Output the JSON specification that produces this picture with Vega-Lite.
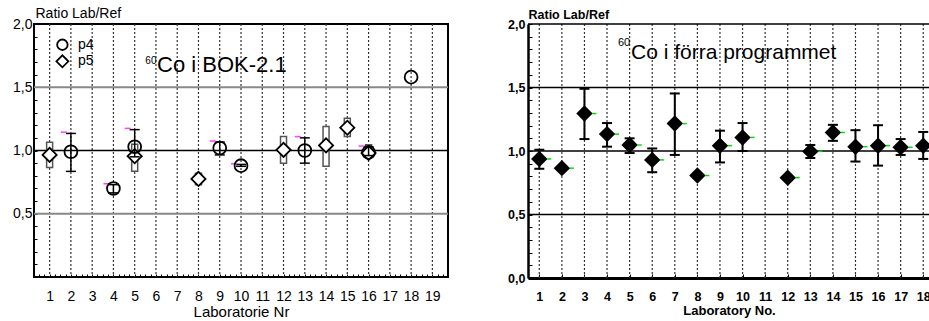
{
  "$schema": "https://vega.github.io/schema/vega-lite/v6.json",
  "padding": {"left": 11, "top": 5, "right": 0, "bottom": 0},
  "config": {"font": "Liberation Sans", "view": {"stroke": null}, "axis": {"grid": false, "labelOverlap": false, "labelFlush": false, "labelSeparation": 0}},
  "bounds": "flush",
  "spacing": 80,
  "datasets": {
    "labsL": [{"lab":1},{"lab":2},{"lab":3},{"lab":4},{"lab":5},{"lab":6},{"lab":7},{"lab":8},{"lab":9},{"lab":10},{"lab":11},{"lab":12},{"lab":13},{"lab":14},{"lab":15},{"lab":16},{"lab":17},{"lab":18},{"lab":19}],
    "labsR": [{"lab":1},{"lab":2},{"lab":3},{"lab":4},{"lab":5},{"lab":6},{"lab":7},{"lab":8},{"lab":9},{"lab":10},{"lab":11},{"lab":12},{"lab":13},{"lab":14},{"lab":15},{"lab":16},{"lab":17},{"lab":18}],
    "box5": [{"lab":1,"lo":0.865,"hi":1.065},{"lab":5,"lo":0.835,"hi":1.05},{"lab":8,"lo":0.73,"hi":0.82},{"lab":12,"lo":0.9,"hi":1.11},{"lab":14,"lo":0.875,"hi":1.19},{"lab":15,"lo":1.11,"hi":1.255},{"lab":16,"lo":0.955,"hi":1.045}],
    "p5": [{"lab":1,"v":0.965},{"lab":5,"v":0.955},{"lab":8,"v":0.775},{"lab":12,"v":1.005},{"lab":14,"v":1.04},{"lab":15,"v":1.18},{"lab":16,"v":0.98}],
    "err4": [{"lab":2,"lo":0.835,"hi":1.135},{"lab":4,"lo":0.665,"hi":0.73},{"lab":5,"lo":0.95,"hi":1.165},{"lab":9,"lo":0.965,"hi":1.067},{"lab":10,"lo":0.875,"hi":0.89},{"lab":13,"lo":0.9,"hi":1.1},{"lab":16,"lo":0.96,"hi":1.03}],
    "mag": [{"lab":2,"v":1.145},{"lab":4,"v":0.737},{"lab":5,"v":1.175},{"lab":9,"v":1.075},{"lab":10,"v":0.895},{"lab":13,"v":1.11},{"lab":16,"v":1.035}],
    "p4": [{"lab":2,"v":0.99},{"lab":4,"v":0.7},{"lab":5,"v":1.03},{"lab":9,"v":1.02},{"lab":10,"v":0.88},{"lab":13,"v":1.0},{"lab":16,"v":0.985},{"lab":18,"v":1.58}],
    "right": [
      {"lab":1,"v":0.9375,"lo":0.86,"hi":1.01},
      {"lab":2,"v":0.865},
      {"lab":3,"v":1.295,"lo":1.094,"hi":1.49},
      {"lab":4,"v":1.133,"lo":1.034,"hi":1.22},
      {"lab":5,"v":1.047,"lo":0.984,"hi":1.1},
      {"lab":6,"v":0.93,"lo":0.833,"hi":1.02},
      {"lab":7,"v":1.216,"lo":0.969,"hi":1.453},
      {"lab":8,"v":0.807},
      {"lab":9,"v":1.042,"lo":0.91,"hi":1.16},
      {"lab":10,"v":1.107,"lo":1.0,"hi":1.22},
      {"lab":12,"v":0.79},
      {"lab":13,"v":0.997,"lo":0.945,"hi":1.047},
      {"lab":14,"v":1.146,"lo":1.08,"hi":1.206},
      {"lab":15,"v":1.034,"lo":0.917,"hi":1.164},
      {"lab":16,"v":1.042,"lo":0.885,"hi":1.203},
      {"lab":17,"v":1.029,"lo":0.969,"hi":1.094},
      {"lab":18,"v":1.042,"lo":0.9375,"hi":1.15}
    ]
  },
  "hconcat": [
    {
      "width": 414,
      "height": 253,
      "view": {"stroke": "black", "strokeWidth": 2},
      "resolve": {"axis": {"x": "independent", "y": "independent"}},
      "layer": [
        {
          "data": {"name": "labsL"},
          "mark": {"type": "rule", "strokeDash": [2, 2], "color": "#333", "strokeWidth": 1.2},
          "encoding": {
            "x": {"field": "lab", "type": "quantitative", "scale": {"domain": [0.5, 19.5], "nice": false, "zero": false},
              "axis": {"title": "Laboratorie Nr", "titleFontSize": 15, "titleFontWeight": "normal", "titleColor": "black", "titleY": 39, "titleBaseline": "alphabetic",
                "values": [0.5,0.75,1,1.25,1.5,1.75,2,2.25,2.5,2.75,3,3.25,3.5,3.75,4,4.25,4.5,4.75,5,5.25,5.5,5.75,6,6.25,6.5,6.75,7,7.25,7.5,7.75,8,8.25,8.5,8.75,9,9.25,9.5,9.75,10,10.25,10.5,10.75,11,11.25,11.5,11.75,12,12.25,12.5,12.75,13,13.25,13.5,13.75,14,14.25,14.5,14.75,15,15.25,15.5,15.75,16,16.25,16.5,16.75,17,17.25,17.5,17.75,18,18.25,18.5,18.75,19,19.25,19.5],
                "labelExpr": "datum.value % 1 === 0 ? format(datum.value, 'd') : ''", "labelOverlap": false, "labelFlush": false,
                "labelFontSize": 14, "labelColor": "black", "labelBaseline": "top", "labelPadding": 15,
                "tickSize": -3, "tickColor": "black", "domain": false}}
          }
        },
        {
          "data": {"values": [{"v": 0.5}, {"v": 1.5}]},
          "mark": {"type": "rule", "color": "#888", "strokeWidth": 2},
          "encoding": {
            "y": {"field": "v", "type": "quantitative", "scale": {"domain": [0, 2], "nice": false, "zero": false},
              "axis": {"title": "Ratio Lab/Ref", "titleAngle": 0, "titleAlign": "left", "titleX": 1, "titleY": -7, "titleBaseline": "alphabetic", "titleFontSize": 14, "titleFontWeight": "normal", "titleColor": "black",
                "values": [0,0.1,0.2,0.3,0.4,0.5,0.6,0.7,0.8,0.9,1,1.1,1.2,1.3,1.4,1.5,1.6,1.7,1.8,1.9,2],
                "labelExpr": "abs(datum.value*2-round(datum.value*2))<0.001 && datum.value>0.01 ? replace(format(datum.value,'.1f'),'.',',') : ''",
                "labelOverlap": false, "labelFlush": false, "labelFontSize": 14, "labelColor": "black", "labelPadding": 5,
                "tickSize": -3, "tickColor": "black", "domain": false}}
          }
        },
        {
          "data": {"values": [{"v": 1}]},
          "mark": {"type": "rule", "color": "black", "strokeWidth": 1.5},
          "encoding": {"y": {"field": "v", "type": "quantitative", "scale": {"domain": [0, 2], "nice": false, "zero": false}, "axis": null}}
        },
        {
          "data": {"name": "box5"},
          "mark": {"type": "bar", "orient": "vertical", "size": 6, "fill": "white", "stroke": "#555", "strokeWidth": 1.5},
          "encoding": {
            "x": {"field": "lab", "type": "quantitative", "scale": {"domain": [0.5, 19.5], "nice": false, "zero": false}, "axis": null},
            "y": {"field": "lo", "type": "quantitative", "scale": {"domain": [0, 2], "nice": false, "zero": false}, "axis": null},
            "y2": {"field": "hi"}
          }
        },
        {
          "data": {"name": "p5"},
          "mark": {"type": "point", "shape": "diamond", "filled": true, "fill": "white", "stroke": "black", "strokeWidth": 1.8, "size": 200, "opacity": 1},
          "encoding": {
            "x": {"field": "lab", "type": "quantitative", "scale": {"domain": [0.5, 19.5], "nice": false, "zero": false}, "axis": null},
            "y": {"field": "v", "type": "quantitative", "scale": {"domain": [0, 2], "nice": false, "zero": false}, "axis": null}
          }
        },
        {
          "data": {"name": "err4"},
          "mark": {"type": "rule", "color": "black", "strokeWidth": 1.5},
          "encoding": {
            "x": {"field": "lab", "type": "quantitative", "scale": {"domain": [0.5, 19.5], "nice": false, "zero": false}, "axis": null},
            "y": {"field": "lo", "type": "quantitative", "scale": {"domain": [0, 2], "nice": false, "zero": false}, "axis": null},
            "y2": {"field": "hi"}
          }
        },
        {
          "data": {"name": "err4"},
          "mark": {"type": "rule", "color": "black", "strokeWidth": 1.5, "xOffset": -5, "x2Offset": 5},
          "encoding": {
            "x": {"field": "lab", "type": "quantitative", "scale": {"domain": [0.5, 19.5], "nice": false, "zero": false}, "axis": null},
            "x2": {"field": "lab"},
            "y": {"field": "lo", "type": "quantitative", "scale": {"domain": [0, 2], "nice": false, "zero": false}, "axis": null}
          }
        },
        {
          "data": {"name": "err4"},
          "mark": {"type": "rule", "color": "black", "strokeWidth": 1.5, "xOffset": -5, "x2Offset": 5},
          "encoding": {
            "x": {"field": "lab", "type": "quantitative", "scale": {"domain": [0.5, 19.5], "nice": false, "zero": false}, "axis": null},
            "x2": {"field": "lab"},
            "y": {"field": "hi", "type": "quantitative", "scale": {"domain": [0, 2], "nice": false, "zero": false}, "axis": null}
          }
        },
        {
          "data": {"name": "mag"},
          "mark": {"type": "rule", "color": "#ff40ff", "strokeWidth": 1.5, "xOffset": -10, "x2Offset": -4},
          "encoding": {
            "x": {"field": "lab", "type": "quantitative", "scale": {"domain": [0.5, 19.5], "nice": false, "zero": false}, "axis": null},
            "x2": {"field": "lab"},
            "y": {"field": "v", "type": "quantitative", "scale": {"domain": [0, 2], "nice": false, "zero": false}, "axis": null}
          }
        },
        {
          "data": {"name": "p4"},
          "mark": {"type": "point", "shape": "circle", "filled": false, "stroke": "black", "strokeWidth": 1.8, "size": 165, "opacity": 1},
          "encoding": {
            "x": {"field": "lab", "type": "quantitative", "scale": {"domain": [0.5, 19.5], "nice": false, "zero": false}, "axis": null},
            "y": {"field": "v", "type": "quantitative", "scale": {"domain": [0, 2], "nice": false, "zero": false}, "axis": null}
          }
        },
        {
          "data": {"values": [{"lab": 1.6, "v": 1.836}]},
          "mark": {"type": "point", "shape": "circle", "filled": false, "stroke": "black", "strokeWidth": 1.8, "size": 110, "opacity": 1},
          "encoding": {
            "x": {"field": "lab", "type": "quantitative", "scale": {"domain": [0.5, 19.5], "nice": false, "zero": false}, "axis": null},
            "y": {"field": "v", "type": "quantitative", "scale": {"domain": [0, 2], "nice": false, "zero": false}, "axis": null}
          }
        },
        {
          "data": {"values": [{"lab": 1.6, "v": 1.705}]},
          "mark": {"type": "point", "shape": "diamond", "filled": false, "stroke": "black", "strokeWidth": 1.8, "size": 144, "opacity": 1},
          "encoding": {
            "x": {"field": "lab", "type": "quantitative", "scale": {"domain": [0.5, 19.5], "nice": false, "zero": false}, "axis": null},
            "y": {"field": "v", "type": "quantitative", "scale": {"domain": [0, 2], "nice": false, "zero": false}, "axis": null}
          }
        },
        {
          "data": {"values": [{"lab": 2.33, "v": 1.836, "t": "p4"}, {"lab": 2.33, "v": 1.705, "t": "p5"}]},
          "mark": {"type": "text", "align": "left", "baseline": "middle", "fontSize": 14, "color": "black"},
          "encoding": {
            "x": {"field": "lab", "type": "quantitative", "scale": {"domain": [0.5, 19.5], "nice": false, "zero": false}, "axis": null},
            "y": {"field": "v", "type": "quantitative", "scale": {"domain": [0, 2], "nice": false, "zero": false}, "axis": null},
            "text": {"field": "t"}
          }
        },
        {
          "data": {"values": [{"lab": 5.5, "v": 1.68, "t": "60"}]},
          "mark": {"type": "text", "align": "left", "baseline": "alphabetic", "fontSize": 10, "color": "black"},
          "encoding": {
            "x": {"field": "lab", "type": "quantitative", "scale": {"domain": [0.5, 19.5], "nice": false, "zero": false}, "axis": null},
            "y": {"field": "v", "type": "quantitative", "scale": {"domain": [0, 2], "nice": false, "zero": false}, "axis": null},
            "text": {"field": "t"}
          }
        },
        {
          "data": {"values": [{"lab": 6.05, "v": 1.618, "t": "Co i BOK-2.1"}]},
          "mark": {"type": "text", "align": "left", "baseline": "alphabetic", "fontSize": 22, "color": "black"},
          "encoding": {
            "x": {"field": "lab", "type": "quantitative", "scale": {"domain": [0.5, 19.5], "nice": false, "zero": false}, "axis": null},
            "y": {"field": "v", "type": "quantitative", "scale": {"domain": [0, 2], "nice": false, "zero": false}, "axis": null},
            "text": {"field": "t"}
          }
        }
      ]
    },
    {
      "width": 402,
      "height": 254,
      "resolve": {"axis": {"x": "independent", "y": "independent"}},
      "layer": [
        {
          "data": {"name": "labsR"},
          "mark": {"type": "rule", "strokeDash": [2, 2], "color": "#333", "strokeWidth": 1.2, "clip": true},
          "encoding": {
            "x": {"field": "lab", "type": "quantitative", "scale": {"domain": [0.5, 18.3], "nice": false, "zero": false},
              "axis": {"title": "Laboratory No.", "titleFontSize": 13, "titleFontWeight": "bold", "titleColor": "black", "titleY": 36, "titleBaseline": "alphabetic",
                "values": [1,2,3,4,5,6,7,8,9,10,11,12,13,14,15,16,17,18],
                "labelOverlap": false, "labelFlush": false,
                "labelFontSize": 12.5, "labelFontWeight": "bold", "labelColor": "black", "labelBaseline": "top", "labelPadding": 16,
                "tickSize": -4, "tickColor": "black", "domain": true, "domainColor": "black", "domainWidth": 3}}
          }
        },
        {
          "data": {"values": [{"v": 0.5}, {"v": 1}, {"v": 1.5}, {"v": 2}]},
          "mark": {"type": "rule", "color": "black", "strokeWidth": 1.5},
          "encoding": {
            "y": {"field": "v", "type": "quantitative", "scale": {"domain": [0, 2], "nice": false, "zero": false},
              "axis": {"title": "Ratio Lab/Ref", "titleAngle": 0, "titleAlign": "left", "titleX": 0, "titleY": -6, "titleBaseline": "alphabetic", "titleFontSize": 12.5, "titleFontWeight": "bold", "titleColor": "black",
                "values": [0,0.1,0.2,0.3,0.4,0.5,0.6,0.7,0.8,0.9,1,1.1,1.2,1.3,1.4,1.5,1.6,1.7,1.8,1.9,2],
                "labelExpr": "abs(datum.value*2-round(datum.value*2))<0.001 ? replace(format(datum.value,'.1f'),'.',',') : ''",
                "labelOverlap": false, "labelFlush": false, "labelFontSize": 12.5, "labelFontWeight": "bold", "labelColor": "black", "labelPadding": 7,
                "tickSize": -4, "tickColor": "black", "domain": true, "domainColor": "black", "domainWidth": 2.5}}
          }
        },
        {
          "data": {"name": "right"},
          "mark": {"type": "rule", "color": "black", "strokeWidth": 2, "clip": true},
          "encoding": {
            "x": {"field": "lab", "type": "quantitative", "scale": {"domain": [0.5, 18.3], "nice": false, "zero": false}, "axis": null},
            "y": {"field": "lo", "type": "quantitative", "scale": {"domain": [0, 2], "nice": false, "zero": false}, "axis": null},
            "y2": {"field": "hi"}
          }
        },
        {
          "data": {"name": "right"},
          "mark": {"type": "rule", "color": "black", "strokeWidth": 2, "xOffset": -5, "x2Offset": 5, "clip": true},
          "encoding": {
            "x": {"field": "lab", "type": "quantitative", "scale": {"domain": [0.5, 18.3], "nice": false, "zero": false}, "axis": null},
            "x2": {"field": "lab"},
            "y": {"field": "lo", "type": "quantitative", "scale": {"domain": [0, 2], "nice": false, "zero": false}, "axis": null}
          }
        },
        {
          "data": {"name": "right"},
          "mark": {"type": "rule", "color": "black", "strokeWidth": 2, "xOffset": -5, "x2Offset": 5, "clip": true},
          "encoding": {
            "x": {"field": "lab", "type": "quantitative", "scale": {"domain": [0.5, 18.3], "nice": false, "zero": false}, "axis": null},
            "x2": {"field": "lab"},
            "y": {"field": "hi", "type": "quantitative", "scale": {"domain": [0, 2], "nice": false, "zero": false}, "axis": null}
          }
        },
        {
          "data": {"name": "right"},
          "mark": {"type": "rule", "color": "#00e000", "strokeWidth": 1.5, "xOffset": 8, "x2Offset": 12, "clip": true},
          "encoding": {
            "x": {"field": "lab", "type": "quantitative", "scale": {"domain": [0.5, 18.3], "nice": false, "zero": false}, "axis": null},
            "x2": {"field": "lab"},
            "y": {"field": "v", "type": "quantitative", "scale": {"domain": [0, 2], "nice": false, "zero": false}, "axis": null}
          }
        },
        {
          "data": {"name": "right"},
          "mark": {"type": "point", "shape": "diamond", "filled": true, "color": "black", "size": 270, "opacity": 1, "clip": true},
          "encoding": {
            "x": {"field": "lab", "type": "quantitative", "scale": {"domain": [0.5, 18.3], "nice": false, "zero": false}, "axis": null},
            "y": {"field": "v", "type": "quantitative", "scale": {"domain": [0, 2], "nice": false, "zero": false}, "axis": null}
          }
        },
        {
          "data": {"values": [{"lab": 4.48, "v": 1.823, "t": "60"}]},
          "mark": {"type": "text", "align": "left", "baseline": "alphabetic", "fontSize": 11, "color": "black"},
          "encoding": {
            "x": {"field": "lab", "type": "quantitative", "scale": {"domain": [0.5, 18.3], "nice": false, "zero": false}, "axis": null},
            "y": {"field": "v", "type": "quantitative", "scale": {"domain": [0, 2], "nice": false, "zero": false}, "axis": null},
            "text": {"field": "t"}
          }
        },
        {
          "data": {"values": [{"lab": 5.06, "v": 1.724, "t": "Co i förra programmet"}]},
          "mark": {"type": "text", "align": "left", "baseline": "alphabetic", "fontSize": 21, "color": "black"},
          "encoding": {
            "x": {"field": "lab", "type": "quantitative", "scale": {"domain": [0.5, 18.3], "nice": false, "zero": false}, "axis": null},
            "y": {"field": "v", "type": "quantitative", "scale": {"domain": [0, 2], "nice": false, "zero": false}, "axis": null},
            "text": {"field": "t"}
          }
        }
      ]
    }
  ]
}
